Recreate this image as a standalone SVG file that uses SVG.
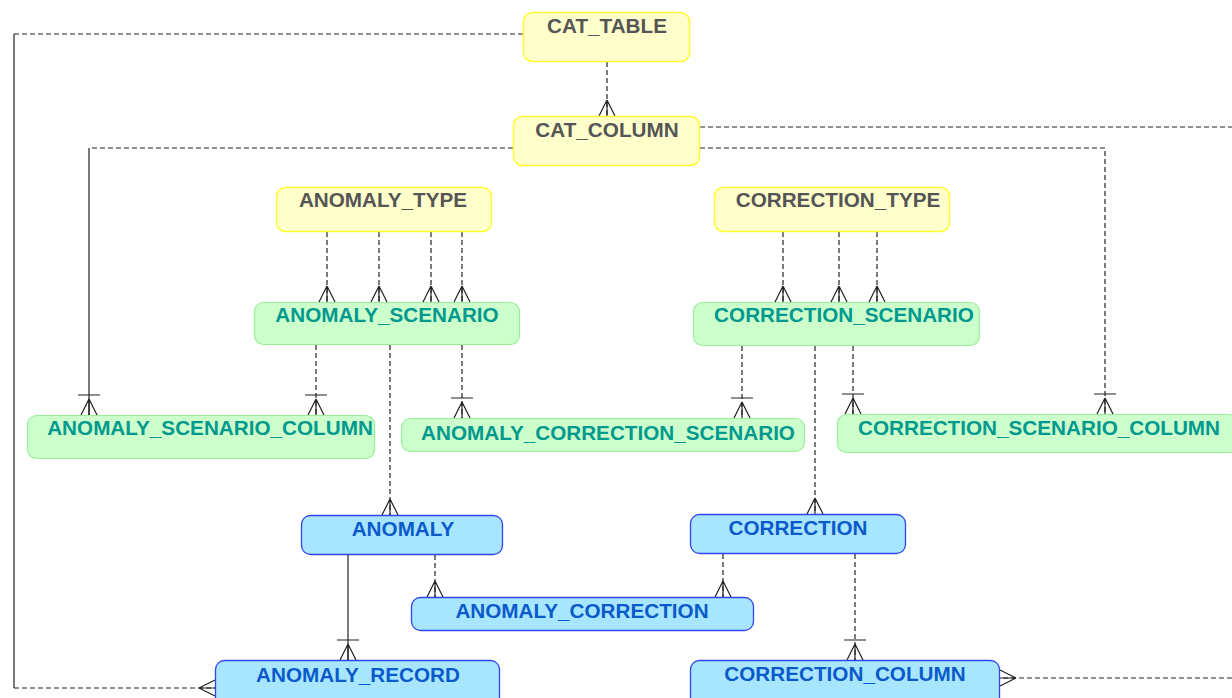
<svg xmlns="http://www.w3.org/2000/svg" width="1232" height="698" viewBox="0 0 1232 698">
<style>
.y rect{fill:#ffffcc;stroke:#ffff33;stroke-width:1.5}
.g rect{fill:#ccffcc;stroke:#99ee99;stroke-width:1.2}
.b rect{fill:#a8e6ff;stroke:#3344ee;stroke-width:1.3}
text{font-family:"Liberation Sans",Arial,sans-serif;font-weight:bold;font-size:20.7px;text-anchor:middle}
.y text{fill:#555555}
.g text{fill:#00998e}
.b text{fill:#0a5acb}
.c path{fill:none;stroke:#222222;stroke-width:1.2}
.c .d{stroke-dasharray:5 3}
.m{fill:none;stroke:#222222;stroke-width:1.2;stroke-dasharray:none}
</style>
<defs>
<marker id="crow" markerUnits="userSpaceOnUse" viewBox="-8 -12 26 24" markerWidth="26" markerHeight="24" refX="16" refY="0" orient="auto">
<path class="m" d="M0,0 L16,-8 M0,0 L16,8 M0,0 L16,0"/>
</marker>
<marker id="barcrow" markerUnits="userSpaceOnUse" viewBox="-8 -12 26 24" markerWidth="26" markerHeight="24" refX="16" refY="0" orient="auto">
<path class="m" d="M0,0 L16,-8 M0,0 L16,8 M0,0 L16,0 M-4,-11 L-4,11"/>
</marker>
</defs>
<g class="c" id="connectors">
<path class="d" d="M607,62 L607,116" marker-end="url(#crow)"/>
<path class="d" d="M523,34 L14,34"/>
<path d="M14,34 L14,688"/>
<path class="d" d="M14,688 L215,688" marker-end="url(#crow)"/>
<path class="d" d="M513,148 L89,148"/>
<path d="M89,148 L89,415" marker-end="url(#barcrow)"/>
<path class="d" d="M700,148 L1105,148 L1105,414" marker-end="url(#barcrow)"/>
<path class="d" d="M700,127 L1232,127"/>
<path class="d" d="M327,232 L327,302" marker-end="url(#crow)"/>
<path class="d" d="M379,232 L379,302" marker-end="url(#crow)"/>
<path class="d" d="M431,232 L431,302" marker-end="url(#crow)"/>
<path class="d" d="M462,232 L462,302" marker-end="url(#crow)"/>
<path class="d" d="M783,232 L783,302" marker-end="url(#crow)"/>
<path class="d" d="M839,232 L839,302" marker-end="url(#crow)"/>
<path class="d" d="M877,232 L877,302" marker-end="url(#crow)"/>
<path class="d" d="M316,345 L316,415" marker-end="url(#barcrow)"/>
<path class="d" d="M390,345 L390,515" marker-end="url(#crow)"/>
<path class="d" d="M462,345 L462,418" marker-end="url(#barcrow)"/>
<path class="d" d="M742,346 L742,418" marker-end="url(#barcrow)"/>
<path class="d" d="M815,346 L815,514" marker-end="url(#crow)"/>
<path class="d" d="M853,346 L853,414" marker-end="url(#barcrow)"/>
<path d="M348,555 L348,660" marker-end="url(#barcrow)"/>
<path class="d" d="M435,555 L435,597" marker-end="url(#crow)"/>
<path class="d" d="M723,554 L723,597" marker-end="url(#crow)"/>
<path class="d" d="M855,554 L855,660" marker-end="url(#barcrow)"/>
<path class="d" d="M1232,678 L1000,678" marker-end="url(#crow)"/>
</g>
<g id="cat_table" class="y"><rect x="523.5" y="12.5" width="166" height="49" rx="9"/><text x="607" y="33">CAT_TABLE</text></g>
<g id="cat_column" class="y"><rect x="513.5" y="116.5" width="186" height="49" rx="9"/><text x="607" y="137">CAT_COLUMN</text></g>
<g id="anomaly_type" class="y"><rect x="276.5" y="187.5" width="215" height="44" rx="9"/><text x="383" y="207">ANOMALY_TYPE</text></g>
<g id="correction_type" class="y"><rect x="714.5" y="187.5" width="235" height="44" rx="9"/><text x="838" y="207">CORRECTION_TYPE</text></g>
<g id="anomaly_scenario" class="g"><rect x="254.5" y="302.5" width="265" height="42" rx="9"/><text x="387" y="322">ANOMALY_SCENARIO</text></g>
<g id="correction_scenario" class="g"><rect x="693.5" y="302.5" width="286" height="43" rx="9"/><text x="844" y="322">CORRECTION_SCENARIO</text></g>
<g id="anomaly_scenario_column" class="g"><rect x="27.5" y="415.5" width="347" height="43" rx="9"/><text x="210" y="435">ANOMALY_SCENARIO_COLUMN</text></g>
<g id="anomaly_correction_scenario" class="g"><rect x="401.5" y="418.5" width="403" height="33" rx="9"/><text x="608" y="440">ANOMALY_CORRECTION_SCENARIO</text></g>
<g id="correction_scenario_column" class="g"><rect x="837.5" y="414.5" width="400" height="38" rx="9"/><text x="1039" y="435">CORRECTION_SCENARIO_COLUMN</text></g>
<g id="anomaly" class="b"><rect x="301.5" y="515.5" width="201" height="39" rx="9"/><text x="403" y="536">ANOMALY</text></g>
<g id="correction" class="b"><rect x="690.5" y="514.5" width="215" height="39" rx="9"/><text x="798" y="535">CORRECTION</text></g>
<g id="anomaly_correction" class="b"><rect x="411.5" y="597.5" width="342" height="33" rx="9"/><text x="582" y="618">ANOMALY_CORRECTION</text></g>
<g id="anomaly_record" class="b"><rect x="215.5" y="660.5" width="284" height="50" rx="9"/><text x="358" y="682">ANOMALY_RECORD</text></g>
<g id="correction_column" class="b"><rect x="690.5" y="660.5" width="309" height="50" rx="9"/><text x="845" y="681">CORRECTION_COLUMN</text></g>
</svg>
